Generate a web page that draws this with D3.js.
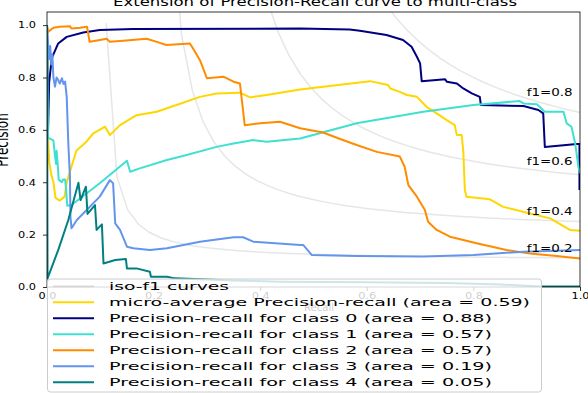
<!DOCTYPE html>
<html>
<head>
<meta charset="utf-8">
<script src="https://cdn.jsdelivr.net/npm/d3@7"></script>
<style>
    html, body { margin: 0; padding: 0; background: #fff; }
    svg { display: block; font-family: 'DejaVu Sans', sans-serif; }
</style>
</head>
<body>
<svg id="chart" width="588" height="393"></svg>
<script>
// values: [recall, precision]
const micro = [[0, 1], [0.002, 0.56], [0.004, 0.48], [0.008, 0.43], [0.012, 0.40], [0.016, 0.34], [0.024, 0.33],
    [0.033, 0.345], [0.037, 0.40], [0.055, 0.52], [0.074, 0.555], [0.087, 0.587], [0.109, 0.612], [0.118, 0.58],
    [0.137, 0.618], [0.168, 0.656], [0.206, 0.669], [0.243, 0.695], [0.287, 0.726], [0.318, 0.739], [0.362, 0.742],
    [0.381, 0.724], [0.412, 0.733], [0.475, 0.754], [0.606, 0.786], [0.640, 0.771], [0.644, 0.758], [0.662, 0.745],
    [0.675, 0.733], [0.694, 0.726], [0.712, 0.688], [0.731, 0.663], [0.750, 0.637], [0.765, 0.618], [0.769, 0.58],
    [0.778, 0.58], [0.781, 0.52], [0.784, 0.37], [0.787, 0.345], [0.831, 0.335], [0.856, 0.306], [0.906, 0.281],
    [0.944, 0.262], [0.981, 0.218], [1.0, 0.215]];

const class0 = [[0, 1], [0.002, 0.6], [0.004, 0.78], [0.009, 0.874], [0.021, 0.93], [0.037, 0.955], [0.068, 0.972],
    [0.099, 0.981], [0.161, 0.985], [0.475, 0.987], [0.568, 0.983], [0.587, 0.978], [0.637, 0.962], [0.668, 0.943],
    [0.684, 0.917], [0.694, 0.879], [0.700, 0.854], [0.703, 0.786], [0.747, 0.793], [0.750, 0.784], [0.769, 0.777],
    [0.781, 0.758], [0.797, 0.739], [0.812, 0.726], [0.814, 0.695], [0.894, 0.691], [0.922, 0.676], [0.931, 0.663],
    [0.934, 0.535], [0.994, 0.546], [0.999, 0.546], [0.999, 0.37]];

const class1 = [[0, 1], [0.002, 0.57], [0.012, 0.56], [0.015, 0.50], [0.017, 0.47], [0.018, 0.52], [0.020, 0.47],
    [0.022, 0.41], [0.028, 0.40], [0.030, 0.41], [0.034, 0.41], [0.036, 0.37], [0.038, 0.31], [0.046, 0.313],
    [0.099, 0.396], [0.150, 0.482], [0.156, 0.44], [0.174, 0.453], [0.225, 0.485], [0.262, 0.504], [0.318, 0.535],
    [0.350, 0.548], [0.387, 0.561], [0.412, 0.555], [0.475, 0.567], [0.581, 0.625], [0.706, 0.669], [0.800, 0.695],
    [0.887, 0.71], [0.894, 0.701], [0.919, 0.698], [0.934, 0.669], [0.969, 0.669], [0.975, 0.625], [0.984, 0.612],
    [0.991, 0.548], [0.997, 0.459], [1.0, 0.434]];

const class2 = [[0, 1], [0.002, 0.974], [0.012, 0.99], [0.024, 0.994], [0.043, 0.996], [0.046, 0.987], [0.062, 0.99],
    [0.075, 0.994], [0.080, 0.936], [0.099, 0.943], [0.112, 0.948], [0.118, 0.936], [0.143, 0.94], [0.187, 0.948],
    [0.206, 0.936], [0.224, 0.924], [0.268, 0.93], [0.274, 0.911], [0.287, 0.866], [0.300, 0.797], [0.331, 0.803],
    [0.350, 0.784], [0.362, 0.777], [0.371, 0.618], [0.400, 0.625], [0.437, 0.631], [0.475, 0.606], [0.518, 0.59],
    [0.550, 0.565], [0.581, 0.542], [0.619, 0.516], [0.662, 0.498], [0.671, 0.459], [0.678, 0.389], [0.694, 0.345],
    [0.709, 0.294], [0.715, 0.249], [0.731, 0.218], [0.756, 0.192], [0.806, 0.167], [0.862, 0.141], [0.906, 0.128],
    [0.956, 0.118], [1.0, 0.109]];

const class3 = [[0, 1], [0.002, 0.93], [0.004, 0.87], [0.006, 0.92], [0.008, 0.85], [0.010, 0.89], [0.012, 0.80],
    [0.015, 0.765], [0.018, 0.80], [0.021, 0.79], [0.024, 0.777], [0.028, 0.797], [0.031, 0.775], [0.034, 0.784],
    [0.037, 0.726], [0.040, 0.548], [0.043, 0.421], [0.044, 0.268], [0.046, 0.224], [0.056, 0.256], [0.099, 0.345],
    [0.118, 0.408], [0.124, 0.396], [0.128, 0.243], [0.137, 0.218], [0.150, 0.154], [0.162, 0.148], [0.193, 0.141],
    [0.225, 0.148], [0.287, 0.173], [0.350, 0.19], [0.368, 0.19], [0.387, 0.173], [0.475, 0.16], [0.481, 0.16],
    [0.497, 0.122], [0.581, 0.118], [0.706, 0.116], [0.800, 0.122], [0.894, 0.135], [1.0, 0.141]];

const class4 = [[0, 1], [0.001, 0.033], [0.021, 0.141], [0.040, 0.256], [0.059, 0.398], [0.063, 0.332], [0.073, 0.383],
    [0.076, 0.279], [0.090, 0.313], [0.093, 0.218], [0.103, 0.239], [0.106, 0.09], [0.128, 0.103], [0.148, 0.107],
    [0.150, 0.071], [0.168, 0.071], [0.193, 0.058], [0.195, 0.039], [0.225, 0.039], [0.240, 0.033], [0.350, 0.025],
    [0.440, 0.02], [0.600, 0.018], [0.750, 0.015], [0.850, 0.01], [0.925, 0.002], [1.0, 0.002]];

const fScores = [0.2, 0.4, 0.6, 0.8];
const tickValues = [0, 0.2, 0.4, 0.6, 0.8, 1.0];

const series = [
    { name: 'micro-average Precision-recall (area = 0.59)', color: 'gold', data: micro },
    { name: 'Precision-recall for class 0 (area = 0.88)', color: 'navy', data: class0 },
    { name: 'Precision-recall for class 1 (area = 0.57)', color: 'turquoise', data: class1 },
    { name: 'Precision-recall for class 2 (area = 0.57)', color: 'darkorange', data: class2 },
    { name: 'Precision-recall for class 3 (area = 0.19)', color: 'cornflowerblue', data: class3 },
    { name: 'Precision-recall for class 4 (area = 0.05)', color: 'teal', data: class4 }
];

const svg = d3.select('#chart');
const plotLeft = 47, plotRight = 580, plotTop = 12, plotBottom = 287;

const x = d3.scaleLinear().domain([0, 1]).range([plotLeft, plotRight]);
const y = d3.scaleLinear().domain([0, 1.05]).range([plotBottom, plotTop]);

svg.append('defs').append('clipPath').attr('id', 'plot-clip')
    .append('rect')
    .attr('x', plotLeft).attr('y', plotTop)
    .attr('width', plotRight - plotLeft).attr('height', plotBottom - plotTop);

const line = d3.line().x(d => x(d[0])).y(d => y(d[1]));
const plot = svg.append('g').attr('clip-path', 'url(#plot-clip)');

// iso-f1 curves (same recall grid as the sklearn example)
const grid = d3.range(50).map(i => 0.01 + i * 0.99 / 49);
fScores.forEach(f => {
    const pts = grid.map(r => [r, f * r / (2 * r - f)]).filter(p => p[1] >= 0);
    plot.append('path')
        .attr('d', line(pts))
        .attr('fill', 'none')
        .attr('stroke', 'gray')
        .attr('stroke-opacity', 0.2)
        .attr('stroke-width', 1.5);
});

series.forEach(s => {
    plot.append('path')
        .attr('d', line(s.data))
        .attr('fill', 'none')
        .attr('stroke', s.color)
        .attr('stroke-width', 2)
        .attr('stroke-linejoin', 'round');
});

// f1 annotations, placed like the original at recall 0.9
fScores.forEach(f => {
    const r = grid[45];
    const p = f * r / (2 * r - f) + 0.02;
    svg.append('text')
        .attr('x', x(0.9))
        .attr('y', y(p))
        .attr('font-size', 10)
        .attr('textLength', 46)
        .attr('lengthAdjust', 'spacingAndGlyphs')
        .attr('fill', '#000')
        .text(`f1=${f.toFixed(1)}`);
});

// spines
svg.append('rect')
    .attr('x', plotLeft).attr('y', plotTop)
    .attr('width', plotRight - plotLeft).attr('height', plotBottom - plotTop)
    .attr('fill', 'none')
    .attr('stroke', '#000')
    .attr('stroke-width', 0.8);

const yAxis = svg.append('g')
    .attr('transform', `translate(${plotLeft},0)`)
    .call(d3.axisLeft(y).tickValues(tickValues).tickFormat(d3.format('.1f')).tickSize(4).tickSizeOuter(0).tickPadding(7));
const xAxis = svg.append('g')
    .attr('transform', `translate(0,${plotBottom})`)
    .call(d3.axisBottom(x).tickValues(tickValues).tickFormat(d3.format('.1f')).tickSize(4).tickSizeOuter(0).tickPadding(2));

[yAxis, xAxis].forEach(ax => {
    ax.select('.domain').remove();
    ax.selectAll('.tick line').attr('stroke', '#000').attr('stroke-width', 0.8);
    ax.selectAll('.tick text')
        .attr('font-family', 'DejaVu Sans')
        .attr('font-size', 9)
        .attr('fill', '#000')
        .attr('textLength', 18)
        .attr('lengthAdjust', 'spacingAndGlyphs');
});

// title and axis labels (the picture is stretched sideways, so the vertical label is too)
svg.append('text')
    .attr('x', 315).attr('y', 6)
    .attr('text-anchor', 'middle')
    .attr('font-size', 13)
    .attr('textLength', 404)
    .attr('lengthAdjust', 'spacingAndGlyphs')
    .text('Extension of Precision-Recall curve to multi-class');

svg.append('text')
    .attr('x', 319).attr('y', 311)
    .attr('text-anchor', 'middle')
    .attr('font-size', 11)
    .attr('textLength', 30)
    .attr('lengthAdjust', 'spacingAndGlyphs')
    .text('Recall');

svg.append('text')
    .attr('transform', 'translate(8,140) scale(1.4,1) rotate(-90)')
    .attr('text-anchor', 'middle')
    .attr('font-size', 12)
    .text('Precision');

// legend
const legend = svg.append('g');
legend.append('rect')
    .attr('x', 47.5).attr('y', 279)
    .attr('width', 494).attr('height', 113)
    .attr('rx', 3)
    .attr('fill', '#fff')
    .attr('fill-opacity', 0.8)
    .attr('stroke', '#ccc')
    .attr('stroke-width', 1);

const legendItems = [{ name: 'iso-f1 curves', color: 'gray', opacity: 0.2, width: 120 }]
    .concat(series.map((s, i) => ({ name: s.name, color: s.color, opacity: 1, width: i === 0 ? 421 : 383 })));

legendItems.forEach((item, i) => {
    const cy = 286.3 + i * 16;
    legend.append('line')
        .attr('x1', 53).attr('x2', 94)
        .attr('y1', cy).attr('y2', cy)
        .attr('stroke', item.color)
        .attr('stroke-opacity', item.opacity)
        .attr('stroke-width', 2);
    legend.append('text')
        .attr('x', 109).attr('y', cy + 4)
        .attr('font-size', 11)
        .attr('textLength', item.width)
        .attr('lengthAdjust', 'spacingAndGlyphs')
        .attr('fill', '#000')
        .text(item.name);
});
</script>
</body>
</html>
